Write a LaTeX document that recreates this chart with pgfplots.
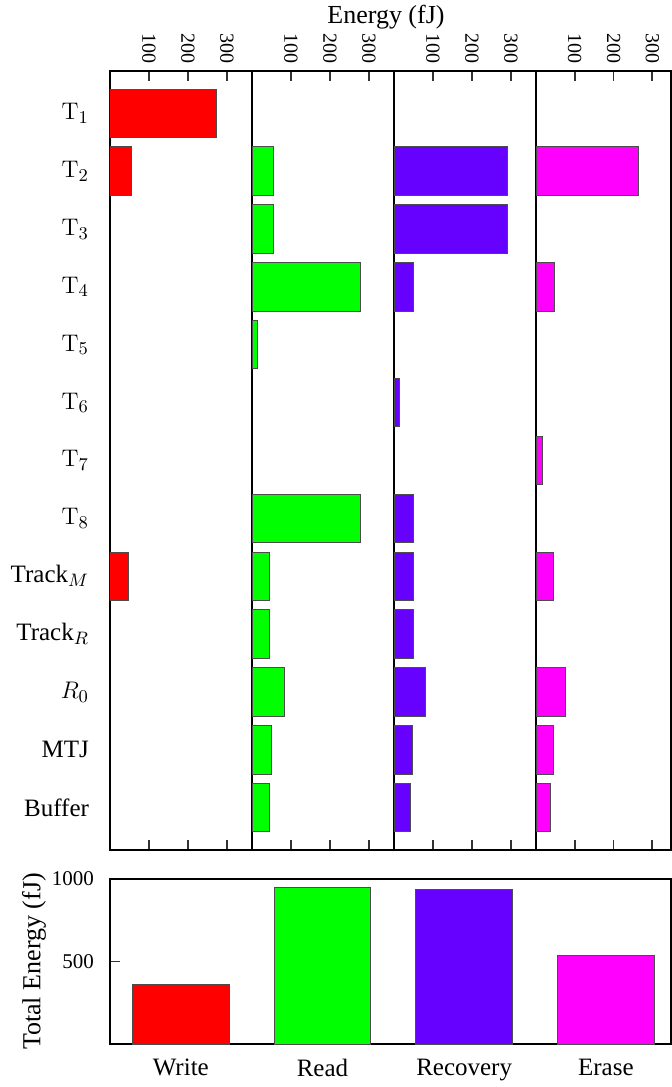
\documentclass[border=0pt]{standalone}
\usepackage[no-math]{fontspec}
\setmainfont{Liberation Serif}
\usepackage{pgfplots}
\usepackage{pgfplotstable}
\pgfplotsset{compat=1.18}
\definecolor{cwrite}{RGB}{255,0,0}
\definecolor{cread}{RGB}{0,255,0}
\definecolor{crec}{RGB}{102,0,255}
\definecolor{cerase}{RGB}{255,0,255}

% rows: 0=T1 1=T2 2=T3 3=T4 4=T5 5=T6 6=T7 7=T8 8=TrackM 9=TrackR 10=R0 11=MTJ 12=Buffer
\pgfplotstableread{
row val
0 272
1 56
8 48
}\writedata
\pgfplotstableread{
row val
1 55
2 55
3 279
4 14
7 279
8 46
9 46
10 83
11 49
12 44
}\readdata
\pgfplotstableread{
row val
1 290
2 290
3 51
5 15
7 51
8 50
9 50
10 81
11 48
12 42
}\recdata
\pgfplotstableread{
row val
1 265
3 47
6 16
8 46
10 76
11 46
12 38
}\erasedata

\pgfplotsset{
  panel/.style={
    xbar, bar width=24.2pt, bar shift=0pt,
    scale only axis, width=71pt, height=389.5pt,
    anchor=north west,
    xmin=0, xmax=364, ymin=-0.73, ymax=12.73, y dir=reverse,
    xtick={100,200,300}, xticklabel pos=upper,
    xticklabel style={rotate=-90, anchor=east, font=\fontsize{10}{12}\selectfont},
    tick align=inside, major tick length=5pt,
    ytick=\empty,
    axis line style={line width=1.2pt},
    tick style={line width=0.9pt, black!80},
    /pgf/number format/assume math mode=true,
    /pgf/number format/set thousands separator={},
  },
  barsty/.style={draw=black!70, line width=0.5pt},
}

\begin{document}
\begin{tikzpicture}
\useasboundingbox (0,0) rectangle (335.5pt,-543.5pt);

\begin{axis}[panel, at={(55pt,-35.5pt)},
  ytick={0,...,12},
  yticklabels={$\mathrm{T}_1$,$\mathrm{T}_2$,$\mathrm{T}_3$,$\mathrm{T}_4$,$\mathrm{T}_5$,$\mathrm{T}_6$,$\mathrm{T}_7$,$\mathrm{T}_8$,Track$_M$,Track$_R$,$R_0$,MTJ,Buffer},
  yticklabel style={font=\fontsize{12.5}{14}\selectfont, xshift=-7pt},
  ytick style={draw=none}]
\addplot[barsty, fill=cwrite] table[x=val, y=row]{\writedata};
\end{axis}

\begin{axis}[panel, at={(126pt,-35.5pt)}]
\addplot[barsty, fill=cread] table[x=val, y=row]{\readdata};
\end{axis}

\begin{axis}[panel, at={(197pt,-35.5pt)}]
\addplot[barsty, fill=crec] table[x=val, y=row]{\recdata};
\end{axis}

\begin{axis}[panel, at={(268pt,-35.5pt)}, width=67.5pt, xmax=348]
\addplot[barsty, fill=cerase] table[x=val, y=row]{\erasedata};
\end{axis}

\node[font=\fontsize{13}{15}\selectfont, anchor=base] at (193pt,-11.5pt) {Energy (fJ)};

\begin{axis}[at={(55pt,-439.5pt)}, anchor=north west,
  scale only axis, width=280.5pt, height=82.5pt,
  ybar, bar width=48.25pt, bar shift=0pt,
  xmin=-0.5, xmax=3.46, ymin=0, ymax=1000,
  xtick={0,1,2,3}, xticklabels={Write,Read,Recovery,Erase},
  xticklabel style={font=\fontsize{12.5}{14}\selectfont, yshift=-4pt},
  xtick style={draw=none},
  ytick={500,1000}, ytick pos=left,
  yticklabel style={font=\fontsize{10.5}{12}\selectfont, xshift=-4.5pt},
  tick align=inside, major tick length=5pt,
  tick style={line width=0.9pt, black!80},
  axis line style={line width=1.2pt},
  ylabel={Total Energy (fJ)},
  ylabel style={at={(axis description cs:-0.1355,0.5)}, anchor=center, font=\fontsize{13}{15}\selectfont},
  /pgf/number format/assume math mode=true,
  /pgf/number format/set thousands separator={},
]
\addplot[barsty, fill=cwrite] coordinates {(0,358)};
\addplot[barsty, fill=cread] coordinates {(1,950)};
\addplot[barsty, fill=crec] coordinates {(2,938)};
\addplot[barsty, fill=cerase] coordinates {(3,535)};
\end{axis}
\end{tikzpicture}
\end{document}
